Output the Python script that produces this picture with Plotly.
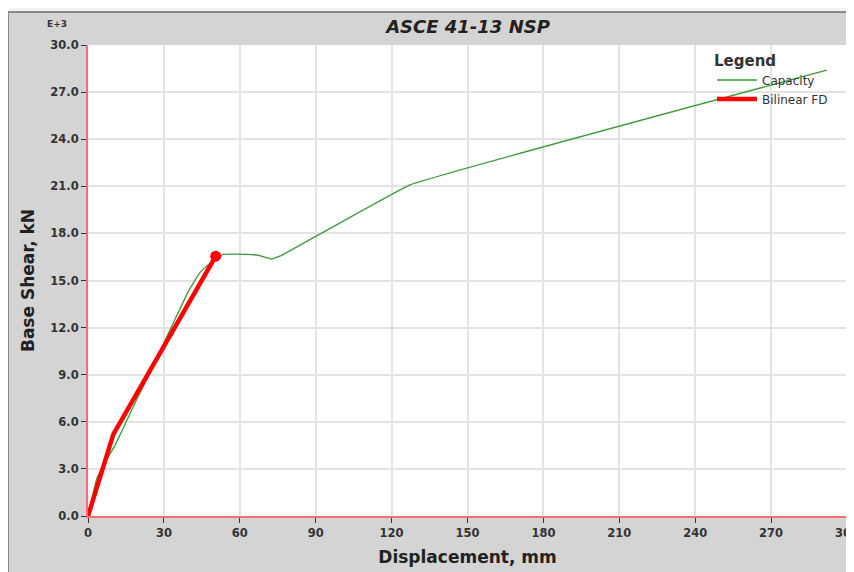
import plotly.graph_objects as go

# Data (base shear in E+3 kN)
cap_disp = [0, 3.5, 7.4, 10.7, 19.2, 25.1, 34.3, 40.0, 44.2, 48.2, 53.3, 62.6, 67.5, 72.5, 76.5, 127.1, 292.0]
cap_shear = [0, 2.4, 3.6, 4.5, 7.4, 9.3, 12.5, 14.4, 15.5, 16.1, 16.67, 16.67, 16.6, 16.37, 16.6, 21.08, 28.4]
bil_disp = [0, 10.0, 50.5]
bil_shear = [0, 5.2, 16.55]
x_ticks = [0, 30, 60, 90, 120, 150, 180, 210, 240, 270, 300]
y_ticks = [0, 3, 6, 9, 12, 15, 18, 21, 24, 27, 30]

fig = go.Figure()
fig.add_trace(go.Scatter(x=cap_disp, y=cap_shear, mode="lines", name="Capacity",
                         line=dict(color="#3a9a3a", width=1.3, shape="spline", smoothing=0.2)))
fig.add_trace(go.Scatter(x=bil_disp, y=bil_shear, mode="lines", name="Bilinear FD",
                         line=dict(color="#ff0000", width=4.5)))
fig.add_trace(go.Scatter(x=[bil_disp[-1]], y=[bil_shear[-1]], mode="markers",
                         marker=dict(color="#ff0000", size=11), showlegend=False))

F = "DejaVu Sans, Verdana, sans-serif"
# The page body has an 8px margin, so the figure is laid out 8px smaller
W, H = 846, 564
L, R, T, B = 80, 7, 37, 56
pw, ph = W - L - R, H - T - B

def px_x(fx):
    return (fx - L) / pw

def px_y(fy):
    return (H - B - fy) / ph

fig.update_layout(
    width=W, height=H,
    margin=dict(l=L, r=R, t=T, b=B, autoexpand=False),
    paper_bgcolor="#d4d4d4",
    plot_bgcolor="#ffffff",
    font=dict(family=F, color="#333333", size=11),
    title=dict(text="<b><i>ASCE 41-13 NSP</i></b>", x=460 / W, xanchor="center",
               y=1 - 19 / H, yanchor="middle", font=dict(family=F, size=18, color="#222222")),
    showlegend=True,
    legend=dict(x=px_x(704), y=px_y(38), xanchor="left", yanchor="top",
                bgcolor="rgba(0,0,0,0)", borderwidth=0, itemwidth=40,
                title=dict(text="<b>Legend</b>", side="top", font=dict(family=F, size=15, color="#333333")),
                font=dict(family=F, size=12, color="#333333"), tracegroupgap=2),
    xaxis=dict(range=[0, 300], tickvals=x_ticks, ticktext=[str(v) for v in x_ticks],
               showgrid=True, gridcolor="#e3e3e3", gridwidth=1.5, zeroline=False,
               showline=True, linecolor="#ff6a6a", linewidth=2,
               ticks="outside", tickcolor="#333333", ticklen=5, tickwidth=1,
               ticklabeloverflow="allow",
               tickfont=dict(family=F, size=11.5, color="#333333", weight="bold"),
               title=dict(text="<b>Displacement, mm</b>", font=dict(family=F, size=17, color="#222222"), standoff=12)),
    yaxis=dict(range=[0, 30], tickvals=y_ticks, ticktext=[f"{v:.1f}" for v in y_ticks],
               showgrid=True, gridcolor="#e3e3e3", gridwidth=1.5, zeroline=False,
               showline=True, linecolor="#ff6a6a", linewidth=2,
               ticks="outside", tickcolor="#333333", ticklen=5, tickwidth=1,
               ticklabeloverflow="allow",
               tickfont=dict(family=F, size=11.5, color="#333333", weight="bold"),
               title=dict(text="<b>Base Shear, kN</b>", font=dict(family=F, size=17, color="#222222"), standoff=11)),
    shapes=[
        dict(type="rect", xref="paper", yref="paper", x0=px_x(-5), x1=px_x(W + 5), y0=px_y(4), y1=px_y(-5),
             fillcolor="#f4f4f4", line=dict(width=0), layer="below"),
        dict(type="line", xref="paper", yref="paper", x0=px_x(0), x1=px_x(W + 5), y0=px_y(4), y1=px_y(4),
             line=dict(color="#8a8a8a", width=2)),
        dict(type="line", xref="paper", yref="paper", x0=px_x(0), x1=px_x(0), y0=px_y(H + 5), y1=px_y(4),
             line=dict(color="#8a8a8a", width=2)),
    ],
    annotations=[
        dict(text="<b>E+3</b>", xref="paper", yref="paper", x=px_x(61), y=px_y(16), xanchor="right",
             yanchor="middle", showarrow=False, font=dict(family=F, size=9, color="#333333")),
    ],
)

fig.write_html("out.html")
